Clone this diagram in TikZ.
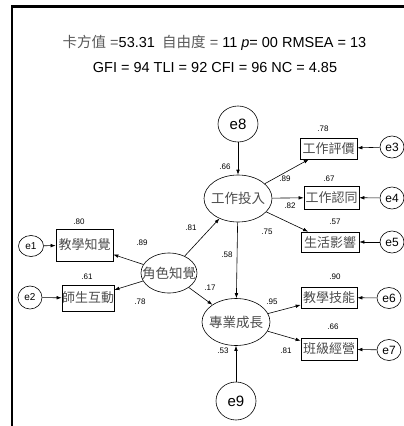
\documentclass[tikz,border=0pt]{standalone}
\usepackage{fontspec}
\setmainfont{Liberation Sans}
\newfontfamily\cjk{Noto Sans CJK TC}
\usetikzlibrary{arrows.meta,shapes.geometric}
\begin{document}
\begin{tikzpicture}[x=1pt,y=-1pt,
  obs/.style={draw,line width=0.7pt,inner sep=0,font=\cjk\fontsize{13}{13}\selectfont,text=black!70},
  lat/.style={draw,ellipse,line width=0.6pt,inner sep=0,font=\cjk\fontsize{13.5}{13.5}\selectfont,text=black!70},
  err/.style={draw,ellipse,line width=0.6pt,inner sep=0},
  num/.style={font=\fontsize{8}{8}\selectfont,inner sep=0},
  arr/.style={-{Latex[length=5pt,width=3.6pt]},line width=0.6pt},
  ttl/.style={font=\fontsize{14.5}{14.5}\selectfont,inner sep=0},
]
\useasboundingbox (0,0) rectangle (404,426);
\draw[line width=2.2pt] (12,426) -- (12,6.5) -- (404,6.5);

% titles
\node[ttl] (t1) at (214.5,43) {{\cjk\color{black!65}卡方值} {\color{black!65}=}53.31\enspace{\cjk\color{black!65}自由度} {\color{black!65}=} 11 \textit{p}= 00 RMSEA = 13};
\node[ttl] (t2) at (215,68) {GFI = 94 TLI = 92 CFI = 96 NC = 4.85};

% latent
\node[lat,minimum width=68,minimum height=47] (F1) at (238,198.5) {\makebox[0pt]{工作投入}};
\node[lat,minimum width=68,minimum height=47] (F2) at (236,322) {\makebox[0pt]{專業成長}};
\node[lat,minimum width=56,minimum height=40] (F0) at (169,273) {\makebox[0pt]{角色知覺}};

% observed
\node[obs,minimum width=57,minimum height=21] (b3) at (328.5,148.5) {工作評價};
\node[obs,minimum width=55,minimum height=23] (b4) at (331.5,197.5) {工作認同};
\node[obs,minimum width=58,minimum height=20] (b5) at (330,242) {生活影響};
\node[obs,minimum width=56,minimum height=21] (b6) at (329,297.5) {教學技能};
\node[obs,minimum width=56,minimum height=22] (b7) at (329,349) {班級經營};
\node[obs,minimum width=57,minimum height=32] (b1) at (84.5,245) {教學知覺};
\node[obs,minimum width=52,minimum height=26] (b2) at (88,298) {\makebox[0pt]{師生互動}};

% errors
\node[err,minimum width=40,minimum height=36,font=\fontsize{15}{15}\selectfont] (e8) at (238,124) {\makebox[0pt]{e8}};
\node[err,minimum width=40,minimum height=38,font=\fontsize{15}{15}\selectfont] (e9) at (236,401) {\makebox[0pt]{e9}};
\node[err,minimum width=24,minimum height=22,font=\fontsize{12}{12}\selectfont] (e3) at (392,147) {\makebox[0pt]{e3}};
\node[err,minimum width=24,minimum height=22,font=\fontsize{12}{12}\selectfont] (e4) at (392,198) {\makebox[0pt]{e4}};
\node[err,minimum width=24,minimum height=22,font=\fontsize{12}{12}\selectfont] (e5) at (392,242) {\makebox[0pt]{e5}};
\node[err,minimum width=24,minimum height=21,font=\fontsize{12}{12}\selectfont] (e6) at (389,298) {\makebox[0pt]{e6}};
\node[err,minimum width=24,minimum height=21,font=\fontsize{12}{12}\selectfont] (e7) at (389,350) {\makebox[0pt]{e7}};
\node[err,minimum width=25,minimum height=21,font=\fontsize{10}{10}\selectfont] (e1) at (31,246) {\makebox[0pt]{e1}};
\node[err,minimum width=24,minimum height=23,font=\fontsize{10}{10}\selectfont] (e2) at (30,297.5) {\makebox[0pt]{e2}};

% paths
\draw[arr] (e8) -- (F1);
\draw[arr] (e9) -- (F2);
\draw[arr] (F1) -- (F2);
\draw[arr] (F0) -- (F1);
\draw[arr] (F0) -- (F2);
\draw[arr] (F0) -- (b1);
\draw[arr] (F0) -- (b2);
\draw[arr] (F1) -- (b3);
\draw[arr] (F1) -- (b4);
\draw[arr] (F1) -- (b5);
\draw[arr] (F2) -- (b6);
\draw[arr] (F2) -- (b7);
\draw[arr] (e3) -- (b3);
\draw[arr] (e4) -- (b4);
\draw[arr] (e5) -- (b5);
\draw[arr] (e6) -- (b6);
\draw[arr] (e7) -- (b7);
\draw[arr] (e1) -- (b1);
\draw[arr] (e2) -- (b2);

% numbers
\node[num] (n1) at (323,129) {.78};
\node[num] (n2) at (285,179) {.89};
\node[num] (n3) at (329,179) {.67};
\node[num] (n4) at (225,167) {.66};
\node[num] (n5) at (290,206) {.82};
\node[num] (n6) at (335,222) {.57};
\node[num] (n7) at (267,232) {.75};
\node[num] (n8) at (227,255) {.58};
\node[num] (n9) at (335,277) {.90};
\node[num] (n10) at (272,302) {.95};
\node[num] (n11) at (333,327) {.66};
\node[num] (n12) at (286,351) {.81};
\node[num] (n13) at (223,351) {.53};
\node[num] (n14) at (210,288) {.17};
\node[num] (n15) at (191,228) {.81};
\node[num] (n16) at (79,222) {.80};
\node[num] (n17) at (142,243) {.89};
\node[num] (n18) at (87,277) {.61};
\node[num] (n19) at (140,302) {.78};
\end{tikzpicture}
\end{document}
